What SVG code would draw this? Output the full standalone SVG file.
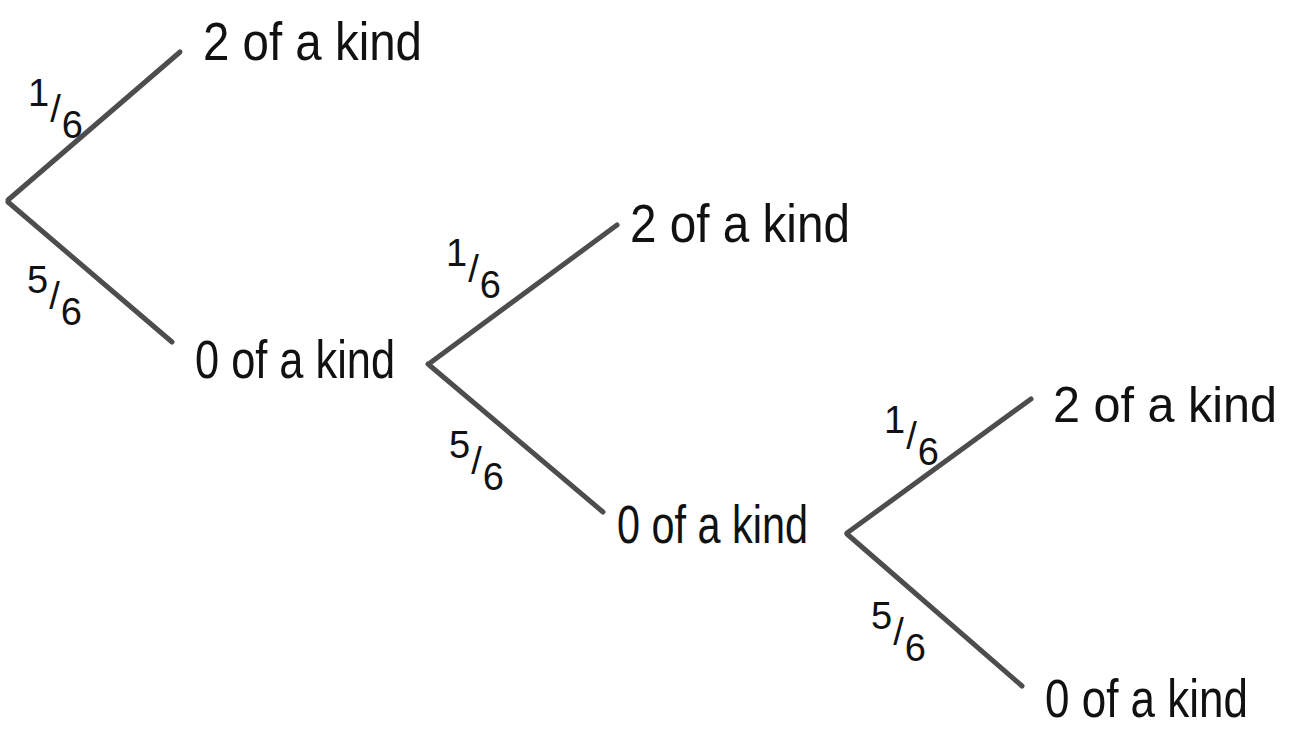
<svg xmlns="http://www.w3.org/2000/svg" width="1297" height="745" viewBox="0 0 1297 745">
<style>
.edge{stroke:#4d4d4d;stroke-width:5;stroke-linecap:round;fill:none}
.lbl{font-family:"Liberation Sans",Arial,sans-serif;font-size:54px;fill:#111}
.fr{font-family:"Liberation Sans",Arial,sans-serif;font-size:38px;fill:#111}
</style>
<rect width="1297" height="745" fill="#fff"/>
<g id="connectors">
<line class="edge" x1="8" y1="200" x2="180" y2="52"/>
<line class="edge" x1="8" y1="202" x2="172" y2="342"/>
<line class="edge" x1="430" y1="363" x2="617" y2="225"/>
<line class="edge" x1="428" y1="364" x2="603" y2="512"/>
<line class="edge" x1="847" y1="533" x2="1031" y2="399"/>
<line class="edge" x1="847" y1="534" x2="1022" y2="686"/>
</g>
<g id="edge-labels">
<text class="fr" x="28" y="106">1<tspan dx="1" dy="16">/</tspan><tspan dx="1" dy="16">6</tspan></text>
<text class="fr" x="27" y="293">5<tspan dx="1" dy="16">/</tspan><tspan dx="1" dy="16">6</tspan></text>
<text class="fr" x="446" y="266">1<tspan dx="1" dy="16">/</tspan><tspan dx="1" dy="16">6</tspan></text>
<text class="fr" x="449" y="458">5<tspan dx="1" dy="16">/</tspan><tspan dx="1" dy="16">6</tspan></text>
<text class="fr" x="884" y="433">1<tspan dx="1" dy="16">/</tspan><tspan dx="1" dy="16">6</tspan></text>
<text class="fr" x="871" y="629">5<tspan dx="1" dy="16">/</tspan><tspan dx="1" dy="16">6</tspan></text>
</g>
<g id="n1-two"><text class="lbl" x="203" y="60" textLength="219" lengthAdjust="spacingAndGlyphs">2 of a kind</text></g>
<g id="n1-zero"><text class="lbl" x="195" y="378" textLength="200" lengthAdjust="spacingAndGlyphs">0 of a kind</text></g>
<g id="n2-two"><text class="lbl" x="630" y="242" textLength="220" lengthAdjust="spacingAndGlyphs">2 of a kind</text></g>
<g id="n2-zero"><text class="lbl" x="617" y="543" textLength="191" lengthAdjust="spacingAndGlyphs">0 of a kind</text></g>
<g id="n3-two"><text class="lbl" x="1053" y="422" style="font-size:50px" textLength="224" lengthAdjust="spacingAndGlyphs">2 of a kind</text></g>
<g id="n3-zero"><text class="lbl" x="1045" y="717" textLength="203" lengthAdjust="spacingAndGlyphs">0 of a kind</text></g>
</svg>
